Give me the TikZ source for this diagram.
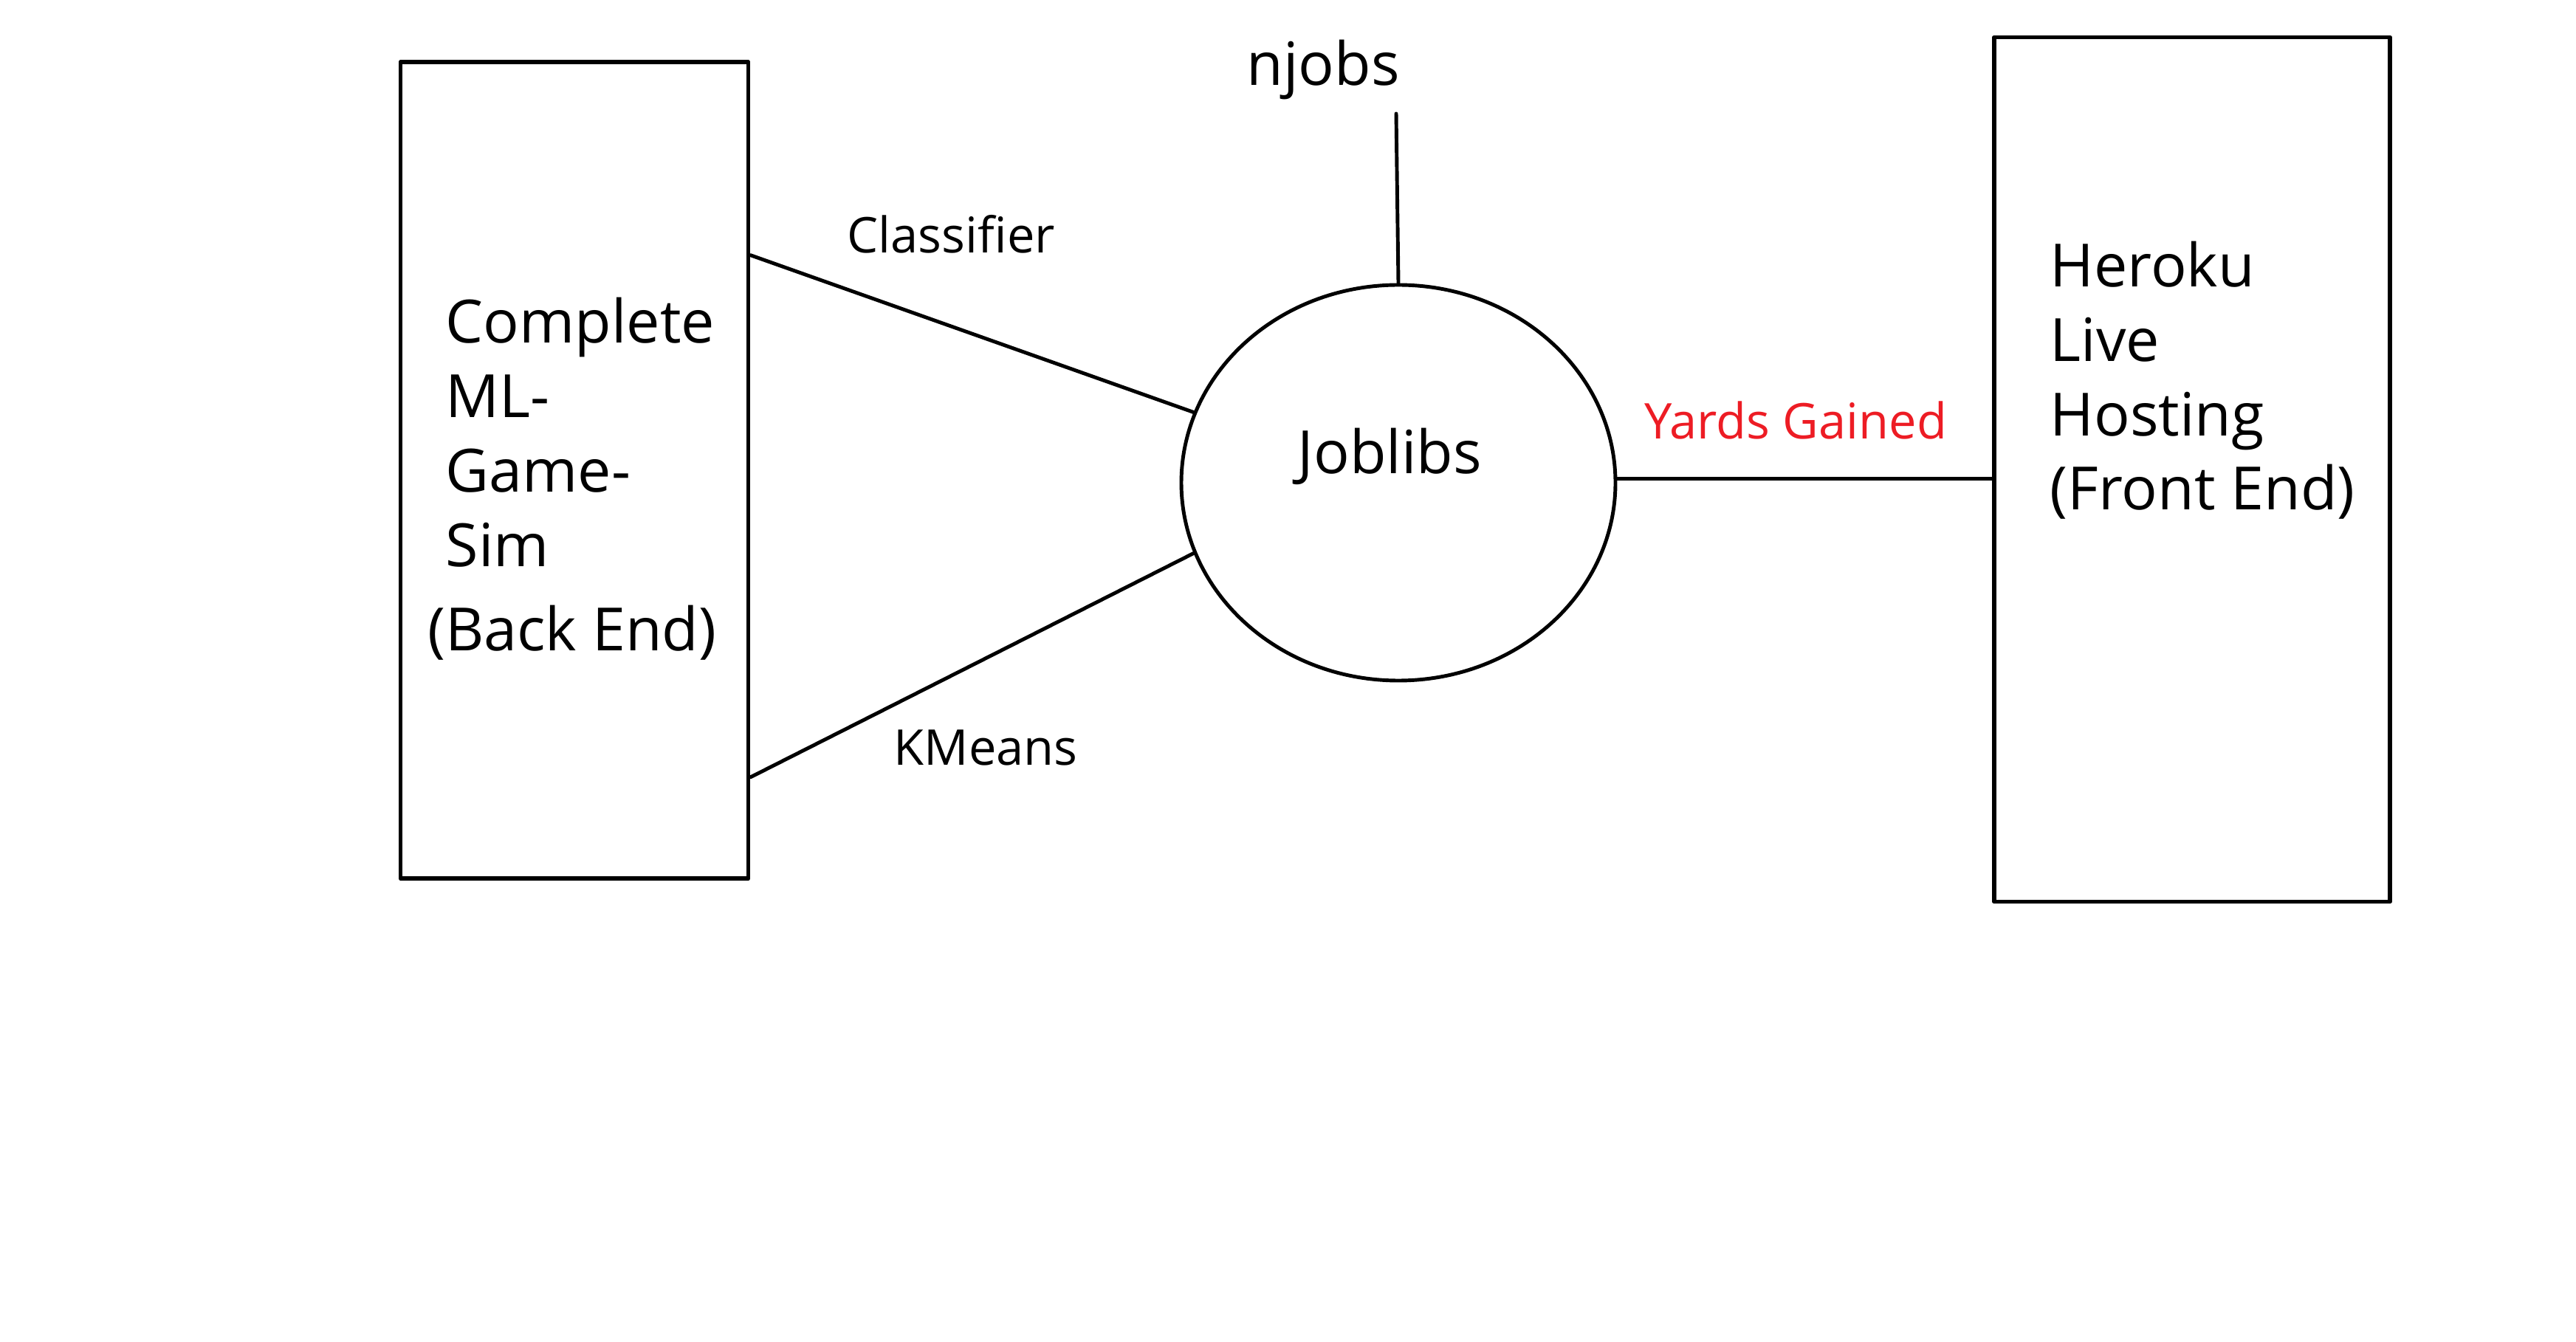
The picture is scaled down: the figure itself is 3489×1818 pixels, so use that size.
\documentclass[tikz,border=0pt]{standalone}
\usepackage{fontspec}
\setmainfont{Open Sans}
\usepackage{xcolor}
\usetikzlibrary{positioning,calc,shapes.geometric}
\definecolor{paintred}{RGB}{237,28,36}

\begin{document}
\begin{tikzpicture}[x=0.1mm,y=-0.1mm, line cap=round, line join=round]
	\useasboundingbox (0,0) rectangle (3489,1818);

	% ===== styles =====
	\tikzset{
		box/.style={draw, line width=1.7pt, inner sep=0pt},
		bigtxt/.style={inner sep=0pt, anchor=base west, align=left, font=\fontsize{23}{28.7}\selectfont},
		smalltxt/.style={inner sep=0pt, anchor=base west, font=\fontsize{19}{23}\selectfont},
		wire/.style={line width=1.4pt}
	}

	% ===== boxes + circle =====
	\node[box, minimum width=47.1mm, minimum height=110.6mm] (back) at (778,637) {};
	\node[box, minimum width=53.6mm, minimum height=117.1mm] (front) at (2969,636) {};
	\node[draw, ellipse, line width=1.4pt, minimum width=58.8mm, minimum height=53.6mm, inner sep=0pt] (job) at (1894,654) {};

	% ===== texts (anchored at the last line) =====
	\node[bigtxt] (backtxt) at (603,882) {Complete\\ML-\\Game-\\Sim\\[4pt]\hspace*{-7pt}(Back End)};
	\node[bigtxt] (fronttxt) at (2776,691) {Heroku\\Live\\Hosting\\(Front End)};
	\node[bigtxt] (jobtxt) at (1757,642) {Joblibs};
	\node[bigtxt] (njobs) at (1688,116) {njobs};
	\node[smalltxt] (cls) at (1147,343) {Classifier};
	\node[smalltxt] (km) at (1210,1037) {KMeans};
	\node[smalltxt, text=paintred] (yards) at (2227,595) {Yards Gained};

	% ===== connectors =====
	\coordinate (ntop) at (1891,154);
	\draw[wire] (ntop) -- (job.north);
	\draw[wire] ($(back.north east)!0.238!(back.south east)$) -- (job.161);
	\draw[wire] ($(back.north east)!0.874!(back.south east)$) -- (job.199);
	\draw[wire] ([yshift=1.5pt]job.east) -- ([yshift=1.5pt]job.east -| front.west);
\end{tikzpicture}
\end{document}
